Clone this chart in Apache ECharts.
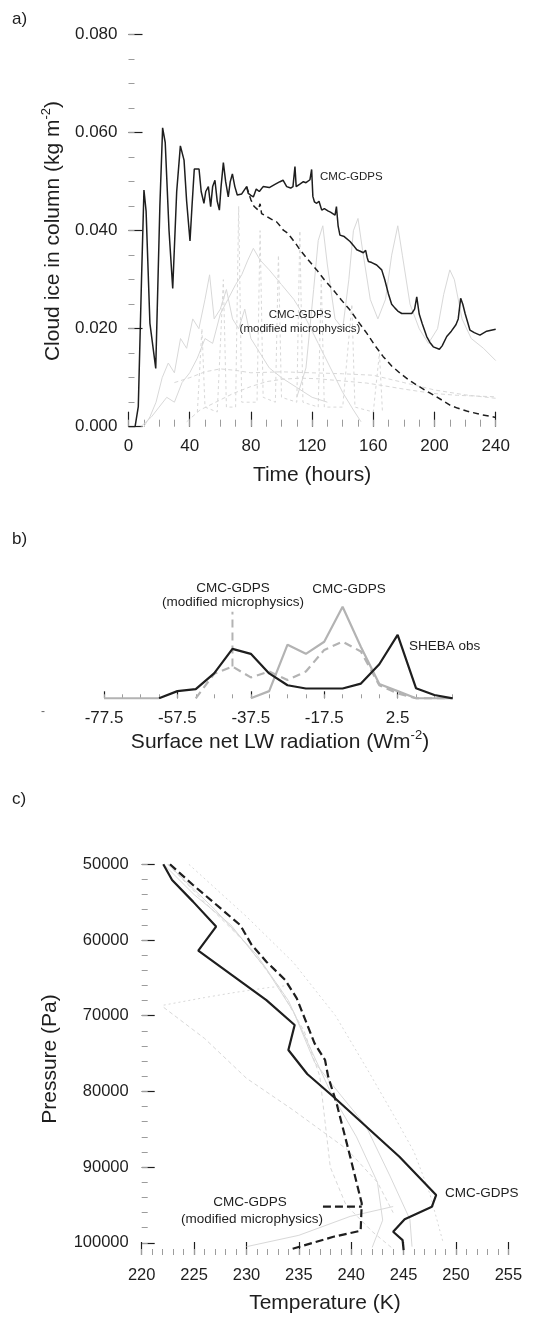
<!DOCTYPE html>
<html>
<head>
<meta charset="utf-8">
<script src="https://cdn.jsdelivr.net/npm/echarts@6/dist/echarts.min.js"></script>
<style>
  html, body { margin: 0; padding: 0; background: #fff; }
  #chart { width: 556px; height: 1317px; }
</style>
</head>
<body>
<div id="chart"></div>
<script>
// ---- panel a: cloud ice in column (kg m-2) against time (hours) ----
const gdpsIce = [[0,0],[4.3,0],[6.4,0.0041],[8.5,0.030],[10.1,0.0483],[11.5,0.044],[14,0.0211],[17.8,0.0119],[20.5,0.045],[22.3,0.061],[24,0.058],[26.5,0.040],[28.9,0.0282],[31.5,0.048],[33.9,0.0573],[36.3,0.0544],[38,0.046],[40.2,0.0379],[41.5,0.045],[43,0.0526],[46.1,0.0526],[47.5,0.048],[49.3,0.0456],[50.5,0.048],[52.2,0.049],[53.7,0.0449],[55,0.049],[56.5,0.0503],[58,0.046],[59.4,0.0442],[60.5,0.049],[62,0.0539],[63.5,0.050],[65.2,0.0469],[66.5,0.050],[67.9,0.0516],[69.5,0.049],[71.1,0.0473],[74,0.0475],[77.2,0.049],[78.3,0.0476],[80,0.0472],[81.6,0.0469],[83.5,0.0485],[85.5,0.048],[88,0.049],[92,0.0488],[96,0.0495],[99,0.050],[101,0.0503],[103.4,0.049],[106,0.0487],[107.5,0.049],[108.8,0.0531],[109.6,0.049],[112,0.0495],[114.3,0.050],[116,0.0498],[118.6,0.0504],[119.7,0.0525],[120.5,0.047],[121.5,0.0459],[123,0.0456],[124.5,0.046],[126.3,0.0442],[128,0.0445],[130.6,0.044],[132,0.0438],[135,0.0432],[135.9,0.0449],[137,0.041],[138.2,0.0391],[141,0.0388],[144.8,0.0378],[147,0.037],[149.2,0.0361],[151.5,0.0358],[153.5,0.0355],[155,0.036],[156,0.0345],[156.8,0.0337],[159,0.0335],[162.2,0.033],[165.5,0.032],[167.5,0.030],[169.8,0.0272],[172,0.025],[174.2,0.0242],[176,0.0236],[178.6,0.0231],[182,0.0231],[185.1,0.0231],[187,0.024],[188.4,0.0265],[190,0.023],[192,0.021],[194.9,0.0184],[197,0.0172],[199.2,0.0163],[203.2,0.0158],[205,0.0165],[208,0.0184],[211,0.0195],[214,0.0208],[215.5,0.022],[217.1,0.0262],[218.5,0.025],[220,0.0231],[223.2,0.0197],[226,0.0192],[229.7,0.0187],[231,0.0184],[234.1,0.0195],[237,0.0197],[240,0.0199]];
const gdpsModIce = [[77.2,0.049],[80,0.0463],[82,0.045],[84.8,0.0442],[86,0.0455],[87,0.0435],[90.3,0.0429],[93,0.0424],[96.8,0.0418],[99,0.041],[101.2,0.0401],[104,0.0395],[106,0.0387],[109,0.0375],[112.1,0.0361],[117,0.0342],[123,0.032],[128,0.030],[133.9,0.0279],[139,0.0259],[144.8,0.0238],[150,0.0215],[155.7,0.0191],[161,0.0166],[166.5,0.0143],[172,0.0124],[177.5,0.0109],[183,0.0096],[188.4,0.0085],[194,0.0074],[199.2,0.0065],[205,0.0054],[210.1,0.0044],[215,0.0038],[221,0.0032],[230,0.0025],[240,0.0019]];
// other models (faint)
const otherIceA = [[8,0],[15,0.002],[20,0.004],[25,0.006],[30,0.005],[35,0.009],[40,0.011],[45,0.014],[50,0.018],[55,0.017],[60,0.023],[65,0.026],[70,0.029],[74,0.031],[78,0.034],[81.6,0.0364],[86,0.034],[92,0.032],[100,0.029],[108,0.026],[116,0.022],[124,0.017],[132,0.012],[140,0.007],[147,0.0034],[152,0.001]];
const otherIceB = [[110,0.006],[116,0.012],[121,0.028],[124,0.038],[127,0.041],[130,0.033],[135,0.022],[140,0.02],[144,0.03],[147,0.04],[150,0.0425],[153,0.036],[158,0.026],[163,0.022],[168,0.026],[172,0.035],[176,0.041],[179,0.035],[184,0.025],[190,0.02],[196,0.017],[202,0.02],[206,0.027],[210,0.032],[213,0.03],[218,0.022],[224,0.018],[232,0.016],[240,0.0135]];
const otherIceC = [[38,0.001],[46.7,0.0034],[57,0.005],[68.5,0.0068],[80,0.0082],[90.3,0.0092],[101,0.0097],[112,0.0099],[123,0.0098],[133.9,0.0095],[145,0.0092],[155.7,0.0089],[166,0.0084],[177.5,0.0078],[188,0.0073],[199,0.0068],[215,0.0064],[240,0.0061]];
const otherIceD = [[30,0.009],[40,0.010],[50,0.0112],[60,0.0118],[70,0.0115],[80,0.011],[100,0.0112],[120,0.011],[140,0.0108],[160,0.0105],[180,0.009],[200,0.0075],[220,0.0065],[240,0.0058]];
const otherIceE = [[10,0],[14,0.002],[18,0.005],[22,0.01],[26,0.013],[30,0.011],[34,0.018],[38,0.016],[42,0.022],[46,0.02],[50,0.026],[53,0.031],[56,0.022],[60,0.024],[64,0.028],[68,0.022],[72,0.02],[76,0.024],[80,0.018],[86,0.015],[92,0.012],[100,0.01],[110,0.008],[120,0.006],[130,0.005]];
const otherIceF = [[45,0.003],[48,0.02],[50,0.004],[58,0.003],[62,0.03],[64,0.004],[70,0.004],[72,0.045],[74,0.005],[84,0.005],[86,0.04],[88,0.006],[96,0.005],[98,0.035],[100,0.006],[110,0.005],[112,0.04],[114,0.005],[124,0.004],[126,0.03],[128,0.004],[140,0.004],[146,0.025],[148,0.004],[160,0.003],[164,0.015],[166,0.003]];

// ---- panel b: frequency of surface net LW radiation (%) ----
const lwBins = [-77.5,-72.5,-67.5,-62.5,-57.5,-52.5,-47.5,-42.5,-37.5,-32.5,-27.5,-22.5,-17.5,-12.5,-7.5,-2.5,2.5,7.5,12.5,17.5];
const shebaFreq = [null,null,null,0,2.2,2.8,7.6,15.1,13.6,7.6,4.0,3.0,3.0,3.0,4.5,10.4,19.4,3.1,1.0,0];
const gdpsFreq = [0,0,0,0,null,null,null,null,0,2.2,16.4,13.6,17.3,28.0,15.7,4.4,2.2,0,0,0];
const gdpsModFreq = [null,null,null,null,null,0,7.5,9.7,6.4,8.2,5.6,8.2,14.8,17.3,14.3,4.0,1.5,0,0,0];
const lwLabelTicks = [-77.5,-57.5,-37.5,-17.5,2.5];
const lwMinorTicks = lwBins;

// ---- panel c: temperature (K) profiles against pressure (Pa) ----
const gdpsProfile = [[222.06,50000],[222.9,52070],[224.9,54930],[227.1,58230],[225.4,61400],[231.9,67930],[234.6,71230],[234.0,74530],[235.8,77700],[238.3,80700],[244.6,88620],[248.1,93680],[247.7,95220],[245.1,96890],[244.0,98530],[244.9,99630],[245.0,100950]];
const gdpsModProfile = [[222.7,50000],[224.9,52730],[229.4,58020],[230.5,60660],[231.9,62860],[233.7,65280],[234.8,67700],[236.5,73650],[237.5,75850],[237.8,78050],[238.6,81570],[239.9,88620],[241.0,94780],[240.9,98400],[238.3,99190],[234.2,100860]];
const modLeader = [[237.3,95200],[241.0,95200]];
const otherProfA = [[222.1,50000],[225,54000],[228.5,58000],[231.9,63880],[234.5,69500],[236.5,76150],[239,80500],[241.4,84560],[243.7,91170],[245.6,96900],[245.8,100500]];
const otherProfB = [[224.5,50000],[230,56900],[234.5,63000],[238.5,70000],[241.5,77000],[244,83000],[246,88000],[247.5,93500],[248.8,100100]];
const otherProfC = [[222.1,68600],[226,67600],[229,66900],[232,66300],[234,66000]];
const otherProfD = [[222.1,68900],[226,73000],[230,78260],[234.5,82500],[239.6,87650],[242.5,92000],[244,96000]];
const otherProfE = [[230,100500],[235,99000],[239.9,96500],[244,95200]];
const otherProfF = [[222.5,50000],[226,55000],[230,60500],[233,66000],[235.5,72000],[237,78000],[237.5,84000],[238,90000],[239.5,95000],[242,98500],[244,100800]];
const otherProfG = [[222.5,50000],[227,56000],[231,62000],[234,68000],[236,74000],[238,80000],[240.5,86000],[242.5,92000],[243,97000],[242,100600]];
const pressureTicks = [50000,60000,70000,80000,90000,100000];
const pressureMinorTicks = [];
for (let p = 50000; p <= 100000; p += 2000) pressureMinorTicks.push(p);

const FONT = "'Liberation Sans', Arial, Helvetica, sans-serif";
const INK = '#1e1e1e';
const FAINT = '#d8d8d8';
const MID = '#b3b3b3';

const chart = echarts.init(document.getElementById('chart'), null, { renderer: 'canvas' });

const majorTick = (len) => ({ show: true, inside: true, length: len, lineStyle: { color: INK, width: 1.2 } });
const minorTickStyle = (len) => ({ show: true, inside: true, length: len, lineStyle: { color: '#9c9c9c', width: 1 } });
const tickLabel = (size, margin, extra) => Object.assign({ fontSize: size, fontFamily: FONT, color: INK, margin: margin }, extra || {});

const bare = { axisLine: { show: false, onZero: false }, splitLine: { show: false } };

const xAxes = [
  // a
  Object.assign({ gridIndex: 0, type: 'value', position: 'bottom', min: 0, max: 240, interval: 40, axisTick: majorTick(15), axisLabel: tickLabel(17, 11) }, bare),
  Object.assign({ gridIndex: 0, type: 'value', position: 'bottom', min: 0, max: 240, interval: 10, axisTick: minorTickStyle(7), axisLabel: { show: false } }, bare),
  // b
  Object.assign({ gridIndex: 1, type: 'value', position: 'bottom', min: -77.5, max: 17.5,
    axisTick: Object.assign(majorTick(7), { customValues: lwLabelTicks }),
    axisLabel: tickLabel(17, 12, { customValues: lwLabelTicks, formatter: v => String(v) }) }, bare),
  Object.assign({ gridIndex: 1, type: 'value', position: 'bottom', min: -77.5, max: 17.5,
    axisTick: Object.assign(minorTickStyle(4), { customValues: lwMinorTicks }), axisLabel: { show: false } }, bare),
  // c
  Object.assign({ gridIndex: 2, type: 'value', position: 'bottom', min: 220, max: 255, interval: 5, axisTick: majorTick(13), axisLabel: tickLabel(16.5, 12) }, bare),
  Object.assign({ gridIndex: 2, type: 'value', position: 'bottom', min: 220, max: 255, interval: 1, axisTick: minorTickStyle(6), axisLabel: { show: false } }, bare)
];

const yAxes = [
  // a
  Object.assign({ gridIndex: 0, type: 'value', position: 'left', min: 0, max: 0.08, interval: 0.02, axisTick: majorTick(14),
    axisLabel: tickLabel(17, 11, { formatter: v => v.toFixed(3) }) }, bare),
  Object.assign({ gridIndex: 0, type: 'value', position: 'left', min: 0, max: 0.08, interval: 0.005, axisTick: minorTickStyle(6), axisLabel: { show: false } }, bare),
  // b
  Object.assign({ gridIndex: 1, type: 'value', show: false, min: 0, max: 30 }, bare),
  // c
  Object.assign({ gridIndex: 2, type: 'value', position: 'left', inverse: true, min: 50000, max: 101600,
    axisTick: Object.assign(majorTick(13), { customValues: pressureTicks }),
    axisLabel: tickLabel(16.5, 13, { customValues: pressureTicks, formatter: v => String(v) }) }, bare),
  Object.assign({ gridIndex: 2, type: 'value', position: 'left', inverse: true, min: 50000, max: 101600,
    axisTick: Object.assign(minorTickStyle(6), { customValues: pressureMinorTicks }), axisLabel: { show: false } }, bare)
];

function line(data, xi, yi, color, width, dash, z) {
  return {
    type: 'line', data: data, xAxisIndex: xi, yAxisIndex: yi,
    showSymbol: false, symbol: 'none', silent: true, connectNulls: false,
    lineStyle: { color: color, width: width, type: dash || 'solid' },
    z: z || 2
  };
}
const binned = (vals) => lwBins.map((x, i) => [x, vals[i] === null ? '-' : vals[i]]);

const series = [
  // a, faint ensemble first
  line(otherIceA, 0, 0, FAINT, 1),
  line(otherIceB, 0, 0, FAINT, 1),
  line(otherIceC, 0, 0, FAINT, 1, [4, 3]),
  line(otherIceD, 0, 0, FAINT, 1, [4, 3]),
  line(otherIceE, 0, 0, FAINT, 1),
  line(otherIceF, 0, 0, FAINT, 1, [3, 3]),
  line(gdpsModIce, 0, 0, INK, 1.5, [6, 4], 4),
  line(gdpsIce, 0, 0, INK, 1.5, 'solid', 5),
  // b
  line(binned(gdpsFreq), 2, 2, MID, 2.2),
  line(binned(gdpsModFreq), 2, 2, MID, 2.2, [8, 5]),
  line([[-42.5, 9.7], [-42.5, 26.5]], 2, 2, MID, 2, [8, 5]),
  line(binned(shebaFreq), 2, 2, INK, 2.2, 'solid', 5),
  // c
  line(otherProfA, 4, 3, FAINT, 1),
  line(otherProfB, 4, 3, FAINT, 1, [2, 3]),
  line(otherProfC, 4, 3, FAINT, 1, [2, 3]),
  line(otherProfD, 4, 3, FAINT, 1, [4, 3]),
  line(otherProfE, 4, 3, FAINT, 1),
  line(otherProfF, 4, 3, FAINT, 1, [4, 3]),
  line(otherProfG, 4, 3, FAINT, 1),
  line(gdpsModProfile, 4, 3, INK, 2.2, [8, 4], 4),
  line(modLeader, 4, 3, INK, 2.2, [8, 4], 4),
  line(gdpsProfile, 4, 3, INK, 2.2, 'solid', 5)
];

function txt(x, y, text, size, opts) {
  opts = opts || {};
  return {
    type: 'text', x: x, y: y, rotation: opts.rotation || 0, silent: true, z: 10,
    style: {
      text: text, font: size + 'px ' + FONT, fill: opts.fill || INK,
      align: opts.align || 'center', verticalAlign: 'middle',
      lineHeight: opts.lineHeight, rich: opts.rich
    }
  };
}
const supRich = (size) => ({ sup: { fontSize: size, fontFamily: FONT, fill: INK, verticalAlign: 'top', lineHeight: size + 1 } });

const graphic = [
  txt(12, 19, 'a)', 17, { align: 'left' }),
  txt(53, 231, 'Cloud ice in column (kg m{sup|-2})', 21, { rotation: Math.PI / 2, lineHeight: 26, rich: supRich(13) }),
  txt(312, 475, 'Time (hours)', 21),
  txt(320, 177, 'CMC-GDPS', 11.5, { align: 'left' }),
  txt(300, 315, 'CMC-GDPS', 11.5),
  txt(300, 329, '(modified microphysics)', 11.5),

  txt(12, 539, 'b)', 17, { align: 'left' }),
  txt(233, 588, 'CMC-GDPS', 13.5),
  txt(233, 602, '(modified microphysics)', 13.5),
  txt(349, 589, 'CMC-GDPS', 13.5),
  txt(409, 646, 'SHEBA obs', 13.5, { align: 'left' }),
  txt(43, 712, '-', 12, { fill: '#666' }),
  txt(280, 742, 'Surface net LW radiation (Wm{sup|-2})', 21, { lineHeight: 26, rich: supRich(13) }),

  txt(12, 799, 'c)', 17, { align: 'left' }),
  txt(445, 1193, 'CMC-GDPS', 13.5, { align: 'left' }),
  txt(250, 1202, 'CMC-GDPS', 13.5),
  txt(252, 1219, '(modified microphysics)', 13.5),
  txt(50, 1059, 'Pressure (Pa)', 21, { rotation: Math.PI / 2 }),
  txt(325, 1303, 'Temperature (K)', 21)
];

chart.setOption({
  animation: false,
  backgroundColor: '#ffffff',
  grid: [
    { left: 128.5, top: 34.7, width: 367.2, height: 392, outerBoundsMode: 'none' },
    { left: 104, top: 600.2, width: 348.7, height: 98.1, outerBoundsMode: 'none' },
    { left: 141.7, top: 864.3, width: 366.7, height: 390.7, outerBoundsMode: 'none' }
  ],
  xAxis: xAxes,
  yAxis: yAxes,
  series: series,
  graphic: graphic
});
</script>
</body>
</html>
